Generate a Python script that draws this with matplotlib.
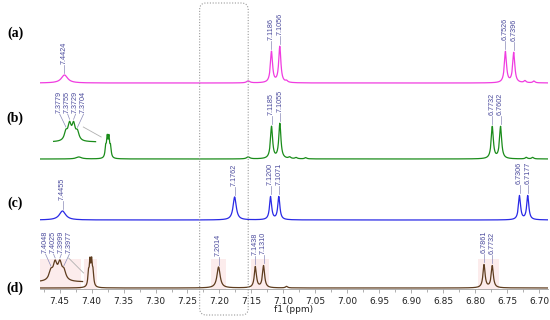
import numpy as np
import matplotlib.pyplot as plt
from matplotlib.patches import FancyBboxPatch, Rectangle
from matplotlib.ticker import MultipleLocator

# spettri (a)-(d): posizioni (ppm), altezze (px), larghezze a meta' altezza (ppm)
a_ppm = [7.4424, 7.155, 7.1186, 7.1056, 7.095, 6.7526, 6.7396, 6.722, 6.708]
a_h = [8, 2, 31, 36, 1.5, 31, 30, 2, 1.8]
a_w = [0.012, 0.006, 0.004, 0.004, 0.004, 0.004, 0.004, 0.004, 0.004]

b_ppm = [7.42, 7.3779, 7.3755, 7.3729, 7.3704, 7.155, 7.1185, 7.1055, 7.09, 7.08, 7.065, 6.7732, 6.7602, 6.72, 6.71]
b_h = [2, 10, 18.5, 18.5, 10, 2, 32, 35, 1.5, 1.2, 1.2, 32, 32, 1.5, 1.5]
b_w = [0.01, 0.0025, 0.0025, 0.0025, 0.0025, 0.006, 0.004, 0.004, 0.004, 0.004, 0.004, 0.004, 0.004, 0.004, 0.004]

c_ppm = [7.4455, 7.1762, 7.1200, 7.1071, 6.7306, 6.7177]
c_h = [9, 23, 23, 23, 24, 24]
c_w = [0.012, 0.006, 0.004, 0.004, 0.004, 0.004]

d_ppm = [7.4048, 7.4025, 7.3999, 7.3977, 7.2014, 7.1438, 7.1310, 7.095, 6.7861, 6.7732]
d_h = [12.6, 23, 23, 12.6, 21, 21, 22, 1.5, 23, 22]
d_w = [0.0025, 0.0025, 0.0025, 0.0025, 0.006, 0.004, 0.004, 0.004, 0.004, 0.004]

# picchi etichettati
a_lab = [7.4424, 7.1186, 7.1056, 6.7526, 6.7396]
b_lab = [7.1185, 7.1055, 6.7732, 6.7602]
b_ins_lab = [7.3779, 7.3755, 7.3729, 7.3704]
c_lab = [7.4455, 7.1762, 7.1200, 7.1071, 6.7306, 6.7177]
d_lab = [7.2014, 7.1438, 7.1310, 6.7861, 6.7732]
d_ins_lab = [7.4048, 7.4025, 7.3999, 7.3977]

nomi = ["(a)", "(b)", "(c)", "(d)"]
colori = ["#f03ce0", "#1a8c1a", "#2a2ae6", "#5e3c1e"]
basi = [206, 130, 69, 1]
lab_col = "#4a4a9c"


def spettro(x, ppm, h, w):
    y = np.zeros_like(x)
    for p, hh, ww in zip(ppm, h, w):
        y += hh / (1 + ((x - p) / (ww / 2)) ** 2)
    return y


def etichetta(ax, xl, xp, ytext, ytop, testo):
    ax.plot([xp, xl], [ytop + 2, ytext - 1], color="#8a8ab8", lw=0.5)
    ax.text(xl, ytext, "%.4f" % testo, rotation=90, ha="center", va="bottom",
            fontsize=5.2, color=lab_col, family="Liberation Sans")


fig = plt.figure(figsize=(5.5, 3.2), dpi=100)
ax = fig.add_axes([0.0724, 0.0969, 0.924, 0.9031])
xmin, xmax = 6.686, 7.481
ax.set_xlim(xmax, xmin)
ax.set_ylim(0, 289)

x = np.linspace(xmin, xmax, 8000)
dati = [(a_ppm, a_h, a_w, a_lab), (b_ppm, b_h, b_w, b_lab),
        (c_ppm, c_h, c_w, c_lab), (d_ppm, d_h, d_w, d_lab)]

# bande rosa dietro (d)
for lo, hi in [(7.412, 7.392), (7.213, 7.189), (7.151, 7.122), (6.796, 6.763), (7.49, 7.416)]:
    ax.add_patch(Rectangle((hi, 0), lo - hi, 30, color="#fcecec", lw=0, zorder=0))

for (ppm, h, w, lab), col, base in zip(dati, colori, basi):
    y = spettro(x, ppm, h, w)
    ax.plot(x, base + y, color=col, lw=0.9, zorder=3)
    for p in lab:
        top = base + spettro(np.array([p]), ppm, h, w)[0]
        etichetta(ax, p, p, top + 11, top, p)

# riquadri ingranditi dei multipletti
inserti = [
    # (ppm, h, w, etichette, finestra, x sinistra/destra nel grafico, base, scala, colore)
    (b_ppm[1:5], b_h[1:5], b_w[1:5], b_ins_lab, (7.3859, 7.3586), (7.4594, 7.3938), 147, 0.84, colori[1], 176,
     (7.413, 162), (7.385, 152)),
    (d_ppm[0:4], d_h[0:4], d_w[0:4], d_ins_lab, (7.4115, 7.3875), (7.4828, 7.4141), 7, 0.71, colori[3], 36,
     (7.436, 31), (7.4125, 16)),
]
for ppm, h, w, lab, win, pos, base, sc, col, ylab, c0, c1 in inserti:
    xi = np.linspace(win[1], win[0], 600)
    yi = spettro(xi, ppm, h, w) * sc
    xm = pos[0] - (win[0] - xi) * (pos[0] - pos[1]) / (win[0] - win[1])
    ax.plot(xm, base + yi, color=col, lw=0.9, zorder=3)
    xc = np.mean(xm[[np.argmin(abs(xi - p)) for p in lab]])
    for i, p in enumerate(lab):
        k = np.argmin(abs(xi - p))
        xl = xc + (1.5 - i) * 0.0125
        etichetta(ax, xl, xm[k], ylab, base + yi[k], p)
    ax.plot([c0[0], c1[0]], [c0[1], c1[1]], color="#b0b0b0", lw=0.6)

for s in ["top", "left", "right"]:
    ax.spines[s].set_visible(False)
ax.spines["bottom"].set_color("#a0a0a0")
ax.spines["bottom"].set_linewidth(0.6)
ax.set_yticks([])
ax.xaxis.set_major_locator(MultipleLocator(0.05))
ax.xaxis.set_minor_locator(MultipleLocator(0.025))
ax.tick_params(axis="x", which="major", length=3, width=0.5, color="#909090",
               labelsize=6.5, pad=3, labelcolor="#222222")
ax.tick_params(axis="x", which="minor", length=2, width=0.5, color="#909090")
ax.set_xticks(np.arange(6.70, 7.451, 0.05))
ax.set_xticklabels(["%.2f" % v for v in np.arange(6.70, 7.451, 0.05)])
ax.set_xlabel("f1 (ppm)", fontsize=6.5, labelpad=-1, color="#222222")
ax.patch.set_alpha(0)

# etichette (a)-(d)
for nome, yp in zip(nomi, [33, 118, 203, 288]):
    fig.text(15 / 550, 1 - yp / 320, nome, ha="center", va="center", fontsize=10,
             fontweight="bold", family="Liberation Serif")

# riquadro tratteggiato
bx0 = 0.0724 + (xmax - 7.231) / (xmax - xmin) * 0.924
bx1 = 0.0724 + (xmax - 7.155) / (xmax - xmin) * 0.924
box = FancyBboxPatch((bx0, 5 / 320), bx1 - bx0, 312 / 320, transform=fig.transFigure,
                     boxstyle="round,pad=0,rounding_size=0.012", mutation_aspect=550 / 320,
                     fill=False, ec="#9a9a9a", ls=(0, (1, 1.5)), lw=0.8, zorder=5)
fig.patches.append(box)

fig.savefig("out.png", dpi=100)
